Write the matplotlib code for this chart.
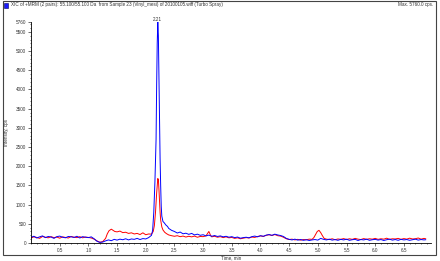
import matplotlib
matplotlib.use("Agg")
import matplotlib.pyplot as plt
from matplotlib.patches import Rectangle
from matplotlib.ticker import MultipleLocator

plt.rcParams['font.family'] = ['Liberation Sans', 'DejaVu Sans']

# XIC traces (time in min, intensity in cps)
blue_t = [0.00, 0.05, 0.10, 0.15, 0.20, 0.25, 0.30, 0.35, 0.40, 0.45, 0.50,
          0.55, 0.60, 0.65, 0.70, 0.75, 0.80, 0.85, 0.90, 0.95, 1.00, 1.05,
          1.10, 1.15, 1.20, 1.25, 1.30, 1.35, 1.40, 1.45, 1.50, 1.55, 1.60,
          1.65, 1.70, 1.75, 1.80, 1.85, 1.90, 1.95, 2.00, 2.05,
          2.10, 2.12, 2.14, 2.16, 2.18, 2.19, 2.20, 2.21, 2.22, 2.23, 2.24,
          2.25, 2.26, 2.27, 2.28, 2.30, 2.32, 2.35, 2.38, 2.40, 2.45,
          2.50, 2.55, 2.60, 2.65, 2.70, 2.75, 2.80, 2.85, 2.90, 2.95,
          3.00, 3.05, 3.10, 3.15, 3.20, 3.25, 3.30, 3.35, 3.40, 3.45,
          3.50, 3.55, 3.60, 3.65, 3.70, 3.75, 3.80, 3.85, 3.90, 3.95,
          4.00, 4.05, 4.10, 4.15, 4.20, 4.25, 4.30, 4.35, 4.40, 4.45,
          4.50, 4.55, 4.60, 4.65, 4.70, 4.75, 4.80, 4.85, 4.90, 4.95,
          5.00, 5.05, 5.10, 5.15, 5.20, 5.25, 5.30, 5.35, 5.40, 5.45,
          5.50, 5.55, 5.60, 5.65, 5.70, 5.75, 5.80, 5.85, 5.90, 5.95,
          6.00, 6.05, 6.10, 6.15, 6.20, 6.25, 6.30, 6.35, 6.40, 6.45,
          6.50, 6.55, 6.60, 6.65, 6.70, 6.75, 6.80, 6.85, 6.88]
blue_v = [150, 175, 130, 160, 185, 140, 170, 155, 120, 165, 180,
          150, 135, 170, 160, 145, 175, 130, 165, 150, 140, 160,
          110, 45, 15, 25, 55, 80, 60, 95, 75, 100, 85,
          110, 80, 105, 95, 120, 90, 115, 105, 140,
          200, 330, 800, 1600, 2700, 4100, 5200, 5760, 5400, 4300, 3100,
          2200, 1500, 950, 700, 560, 530, 470, 430, 380, 330,
          300, 260, 285, 240, 255, 225, 250, 210, 230, 200,
          215, 185, 205, 175, 195, 170, 185, 160, 175, 150,
          165, 140, 155, 125, 140, 150, 135, 165, 180, 160,
          190, 175, 205, 220, 200, 230, 210, 195, 170, 120,
          95, 80, 100, 75, 90, 70, 85, 65, 80, 90,
          75, 120, 95, 80, 100, 75, 90, 70, 95, 80,
          100, 70, 85, 95, 65, 90, 80, 100, 70, 85,
          95, 75, 90, 65, 85, 100, 75, 90, 70, 95,
          80, 90, 70, 85, 100, 75, 90, 80, 85]

red_t = [0.00, 0.05, 0.10, 0.15, 0.20, 0.25, 0.30, 0.35, 0.40, 0.45, 0.50,
         0.55, 0.60, 0.65, 0.70, 0.75, 0.80, 0.85, 0.90, 0.95, 1.00, 1.05,
         1.10, 1.15, 1.20, 1.25, 1.30, 1.33, 1.36, 1.40, 1.43, 1.46, 1.50,
         1.55, 1.60, 1.65, 1.70, 1.75, 1.80, 1.85, 1.90, 1.95, 2.00, 2.05,
         2.10, 2.13, 2.15, 2.17, 2.19, 2.21, 2.22, 2.23, 2.24, 2.25, 2.26,
         2.28, 2.30, 2.33, 2.36, 2.40, 2.45, 2.50, 2.55, 2.60, 2.65, 2.70,
         2.75, 2.80, 2.85, 2.90, 2.95, 3.00, 3.05, 3.10, 3.13, 3.15, 3.20,
         3.25, 3.30, 3.35, 3.40, 3.45, 3.50, 3.55, 3.60, 3.65, 3.70, 3.75,
         3.80, 3.85, 3.90, 3.95, 4.00, 4.05, 4.10, 4.15, 4.20, 4.25, 4.30,
         4.35, 4.40, 4.45, 4.50, 4.55, 4.60, 4.65, 4.70, 4.75, 4.80, 4.85,
         4.90, 4.93, 4.96, 4.99, 5.02, 5.05, 5.08, 5.11, 5.15, 5.20, 5.25,
         5.30, 5.35, 5.40, 5.45, 5.50, 5.55, 5.60, 5.65, 5.70, 5.75, 5.80,
         5.85, 5.90, 5.95, 6.00, 6.05, 6.10, 6.15, 6.20, 6.25, 6.30, 6.35,
         6.40, 6.45, 6.50, 6.55, 6.60, 6.65, 6.70, 6.75, 6.80, 6.85, 6.88]
red_v = [130, 160, 145, 120, 170, 150, 135, 165, 140, 155, 125,
         160, 145, 130, 170, 150, 140, 165, 135, 155, 145, 130,
         100, 55, 20, 35, 120, 240, 320, 360, 330, 300, 290,
         310, 270, 280, 250, 265, 235, 250, 220, 265, 215, 235,
         230, 300, 450, 800, 1300, 1680, 1650, 1400, 1100, 800, 600,
         420, 340, 280, 245, 210, 190, 175, 190, 165, 180, 155,
         175, 160, 180, 150, 170, 165, 185, 300, 200, 160, 175,
         150, 165, 140, 160, 135, 145, 120, 135, 110, 125, 140,
         130, 155, 145, 170, 185, 170, 200, 215, 195, 220, 190,
         180, 150, 110, 90, 100, 80, 95, 75, 90, 85, 100,
         95, 140, 220, 300, 330, 270, 190, 120, 100, 90, 110,
         85, 105, 95, 115, 90, 110, 95, 120, 100, 90, 115,
         95, 110, 100, 120, 95, 110, 100, 125, 95, 110, 105,
         120, 95, 115, 100, 125, 105, 110, 130, 100, 120, 110]

y_major = [0, 500, 1000, 1500, 2000, 2500, 3000, 3500, 4000, 4500, 5000, 5500]
y_max = 5760
peak_time = 2.21

fig = plt.figure(figsize=(4.4, 2.61), dpi=100)
ax = fig.add_axes([0.0705, 0.069, 0.91, 0.847])

ax.plot(red_t, red_v, color='#ff0000', lw=0.7)
ax.plot(blue_t, blue_v, color='#0000ff', lw=0.7)

ax.set_xlim(0, 6.98)
ax.set_ylim(0, y_max)
ax.set_xticks([0.5, 1.0, 1.5, 2.0, 2.5, 3.0, 3.5, 4.0, 4.5, 5.0, 5.5, 6.0, 6.5])
ax.xaxis.set_minor_locator(MultipleLocator(0.1))
ax.set_yticks(y_major + [y_max])
ax.set_yticklabels([str(v) for v in y_major] + [str(y_max)])
ax.yaxis.set_minor_locator(MultipleLocator(100))
ax.tick_params(labelsize=3.3, length=2, width=0.5, pad=1.5, colors='#333333')
ax.tick_params(which='minor', length=1, width=0.4)

for s in ['top', 'right']:
    ax.spines[s].set_visible(False)
for s in ['left', 'bottom']:
    ax.spines[s].set_linewidth(0.6)

ax.set_xlabel('Time, min', fontsize=3.3, labelpad=1.5, color='#333333')
fig.text(0.014, 0.494, 'Intensity, cps', rotation=90, fontsize=3.3,
         ha='center', va='center', color='#333333')

ax.text(peak_time, y_max, '2.21', fontsize=3.3, ha='center', va='bottom', color='#333333')

# header line and frame
fig.patches.append(Rectangle((0.0068, 0.023), 0.984, 0.975, transform=fig.transFigure,
                             fill=False, edgecolor='#444444', lw=0.8))
fig.patches.append(Rectangle((0.008, 0.971), 0.011, 0.019, transform=fig.transFigure,
                             facecolor='#1a1aff', edgecolor='#000066', lw=0.4))
fig.text(0.026, 0.981, 'XIC of +MRM (2 pairs): 55.100/55.100 Da  from Sample 23 (Vinyl_mesi) '
         'of 20100105.wiff (Turbo Spray)', fontsize=3.3, va='center', ha='left', color='#333333')
fig.text(0.985, 0.981, 'Max. 5760.0 cps.', fontsize=3.3, va='center', ha='right', color='#333333')

fig.savefig('out.png', dpi=100)
